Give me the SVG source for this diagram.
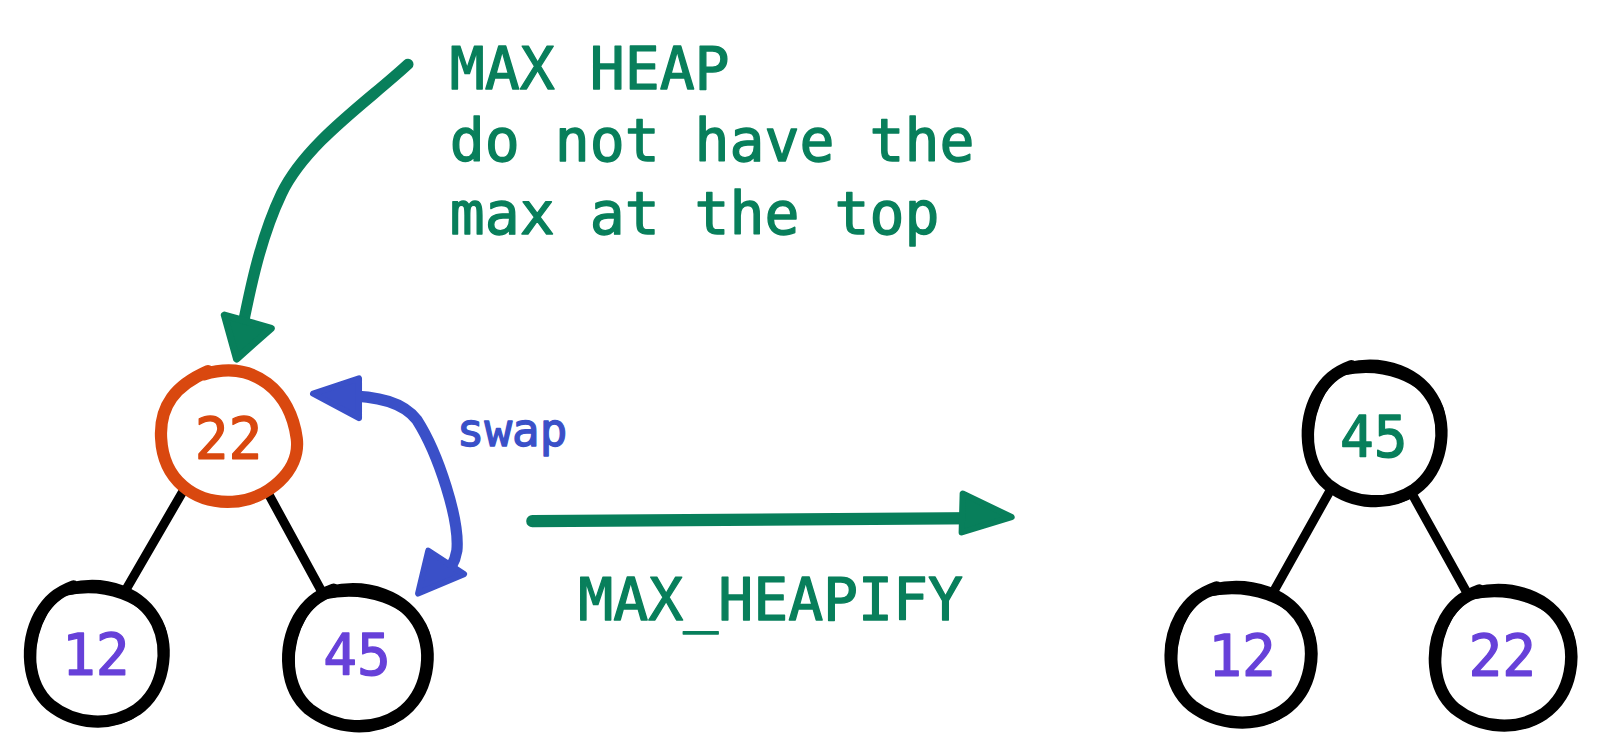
<svg xmlns="http://www.w3.org/2000/svg" width="1599" height="747" viewBox="0 0 1599 747">
<style>
.t{font-family:"DejaVu Sans Mono","Liberation Mono",monospace;stroke-width:1.3;stroke-linejoin:round}
.g{fill:#087f5b;stroke:#087f5b}
.p{fill:#6741d9;stroke:#6741d9}
.o{fill:#d9480f;stroke:#d9480f}
.b{fill:#3a50c8;stroke:#3a50c8}
.blob{fill:none;stroke:#000;stroke-linecap:round;stroke-linejoin:round}
.edge{stroke:#000;stroke-width:9;stroke-linecap:round;fill:none}
</style>
<defs>
<g id="blob">
<path class="blob" stroke-width="12" d="M -25,-64 C 10,-72 45,-60 60,-30 C 72,-5 68,35 40,55 C 15,72 -20,70 -45,50 C -68,30 -70,-10 -55,-38 C -47,-52 -38,-60 -22,-66"/>
<path class="blob" stroke-width="9" d="M -32,-61 C 8,-70 50,-56 64,-24 C 72,2 64,40 34,60 C 8,73 -26,67 -50,46 C -68,26 -67,-14 -51,-42 C -44,-53 -36,-59 -28,-63"/>
</g>
</defs>
<g transform="scale(1.0198)">
<g id="connectors">
<line class="edge" x1="181" y1="479" x2="123" y2="579"/>
<line class="edge" x1="262" y1="482" x2="316" y2="581"/>
<line class="edge" x1="1306" y1="478" x2="1250" y2="578"/>
<line class="edge" x1="1385" y1="485" x2="1440" y2="584"/>
<g id="arrow-maxheap">
<path d="M 400,63 C 360,100 300,140 276,190 C 256,232 246,280 238,320" fill="none" stroke="#087f5b" stroke-width="11" stroke-linecap="round"/>
<polygon points="220,309 266,322 232,352" fill="#087f5b" stroke="#087f5b" stroke-width="7" stroke-linejoin="round"/>
</g>
<g id="arrow-swap">
<path d="M 335,388 C 372,388 396,395 409,412 C 430,445 451,510 448,540 C 446,552 441,560 433,566" fill="none" stroke="#3a50c8" stroke-width="11" stroke-linecap="round"/>
<polygon points="307,386 352,371 352,410" fill="#3a50c8" stroke="#3a50c8" stroke-width="6" stroke-linejoin="round"/>
<polygon points="410,582 420,540 455,563" fill="#3a50c8" stroke="#3a50c8" stroke-width="6" stroke-linejoin="round"/>
</g>
<g id="arrow-heapify">
<path d="M 522,511 L 965,508" fill="none" stroke="#087f5b" stroke-width="12" stroke-linecap="round"/>
<polygon points="992,507 944,484 943,522" fill="#087f5b" stroke="#087f5b" stroke-width="6" stroke-linejoin="round"/>
</g>
</g>
<g id="label-maxheap">
<text class="t g" x="441" y="87" font-size="57">MAX HEAP</text>
<text class="t g" x="441" y="158" font-size="57">do not have the</text>
<text class="t g" x="441" y="229" font-size="57">max at the top</text>
</g>
<text id="label-swap" class="t b" x="448" y="437" font-size="45">swap</text>
<text id="label-heapify" class="t g" x="567" y="608" font-size="57">MAX_HEAPIFY</text>
<g id="node-22-root">
<path d="M 200,367 C 250,352 285,385 291,430 C 295,462 262,490 228,492 C 190,494 160,470 158,430 C 156,398 172,378 204,364" fill="none" stroke="#d9480f" stroke-width="12" stroke-linecap="round"/>
<text class="t o" x="224" y="450" font-size="55" text-anchor="middle">22</text>
</g>
<g id="node-12-left">
<use href="#blob" transform="translate(94,641)"/>
<text class="t p" x="94" y="662" font-size="55" text-anchor="middle">12</text>
</g>
<g id="node-45-left">
<use href="#blob" transform="translate(350,645) scale(1.04,1.01)"/>
<text class="t p" x="350" y="662" font-size="55" text-anchor="middle">45</text>
</g>
<g id="node-45-root">
<use href="#blob" transform="translate(1347,425)"/>
<text class="t g" x="1347" y="448" font-size="55" text-anchor="middle">45</text>
</g>
<g id="node-12-right">
<use href="#blob" transform="translate(1216,642) scale(1.05,1)"/>
<text class="t p" x="1218" y="663" font-size="55" text-anchor="middle">12</text>
</g>
<g id="node-22-right">
<use href="#blob" transform="translate(1473,645) scale(1.02,1)"/>
<text class="t p" x="1473" y="663" font-size="55" text-anchor="middle">22</text>
</g>
</g>
</svg>
